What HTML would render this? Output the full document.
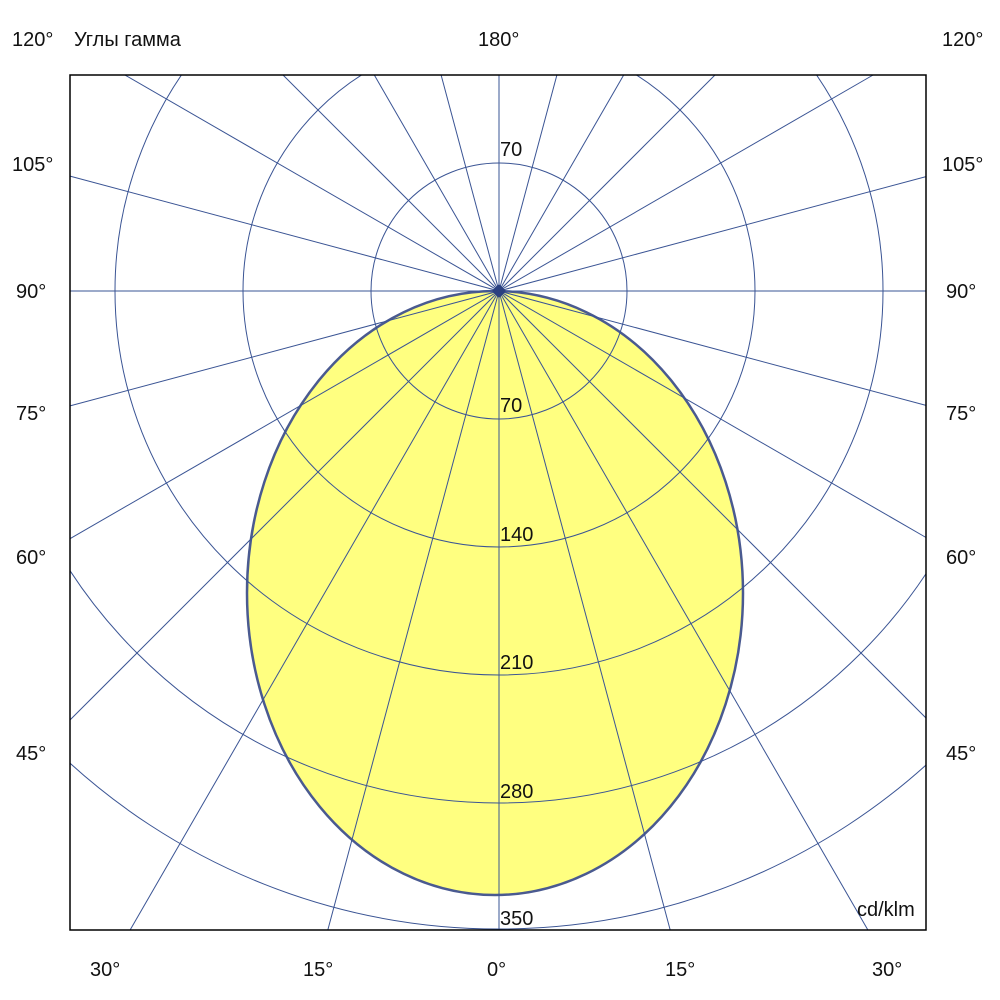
<!DOCTYPE html>
<html><head><style>html,body{margin:0;padding:0;background:#fff;overflow:hidden;width:1000px;height:1000px}#w{width:1000px;height:1000px;overflow:hidden;position:relative}svg{display:block;overflow:hidden;position:absolute;left:0;top:0}svg text{font-family:"Liberation Sans","DejaVu Sans",sans-serif;font-size:20px;fill:#111}</style></head><body>
<div id="w">
<svg width="1000" height="1000" viewBox="0 0 1000 1000" xmlns="http://www.w3.org/2000/svg">
<defs><clipPath id="c"><rect x="70" y="75" width="856" height="855"/></clipPath></defs>
<rect width="1000" height="1000" fill="#fff"/>
<g clip-path="url(#c)">
<ellipse cx="495" cy="593" rx="248" ry="302" fill="#ffff80" stroke="#4a5a90" stroke-width="2.5"/>
<g stroke="#3a5494" stroke-width="1" fill="none">
<circle cx="499" cy="291" r="128"/><circle cx="499" cy="291" r="256"/><circle cx="499" cy="291" r="384"/><circle cx="499" cy="291" r="512"/><circle cx="499" cy="291" r="638"/>
</g>
</g>
<g stroke="#3a5494" stroke-width="1" fill="none">
<line x1="70" y1="291" x2="926" y2="291"/>
<line x1="70" y1="176.1" x2="926" y2="405.4"/>
<line x1="124.9" y1="75" x2="926" y2="537.5"/>
<line x1="283" y1="75" x2="926" y2="718"/>
<line x1="374.3" y1="75" x2="867.9" y2="930"/>
<line x1="441.1" y1="75" x2="670.2" y2="930"/>
<line x1="499" y1="75" x2="499" y2="930"/>
<line x1="556.9" y1="75" x2="327.8" y2="930"/>
<line x1="623.7" y1="75" x2="130.1" y2="930"/>
<line x1="715" y1="75" x2="70" y2="720"/>
<line x1="873.1" y1="75" x2="70" y2="538.7"/>
<line x1="926" y1="176.6" x2="70" y2="405.9"/>
</g>
<polygon points="499,284 506,291 499,298 492,291" fill="#2a4080"/>
<rect x="70" y="75" width="856" height="855" fill="none" stroke="#000" stroke-width="1.5"/>
<text x="500" y="156">70</text><text x="500" y="412">70</text><text x="500" y="541">140</text><text x="500" y="669">210</text><text x="500" y="798">280</text><text x="500" y="925">350</text>
<text x="857" y="916">cd/klm</text>
<text x="12" y="46">120°</text><text x="74" y="46">Углы гамма</text><text x="478" y="46">180°</text><text x="942" y="46">120°</text>
<text x="12" y="171">105°</text><text x="942" y="171">105°</text>
<text x="16" y="298">90°</text><text x="946" y="298">90°</text>
<text x="16" y="420">75°</text><text x="946" y="420">75°</text>
<text x="16" y="564">60°</text><text x="946" y="564">60°</text>
<text x="16" y="760">45°</text><text x="946" y="760">45°</text>
<text x="90" y="976">30°</text><text x="303" y="976">15°</text><text x="487" y="976">0°</text><text x="665" y="976">15°</text><text x="872" y="976">30°</text>
</svg>
</div>
</body></html>
